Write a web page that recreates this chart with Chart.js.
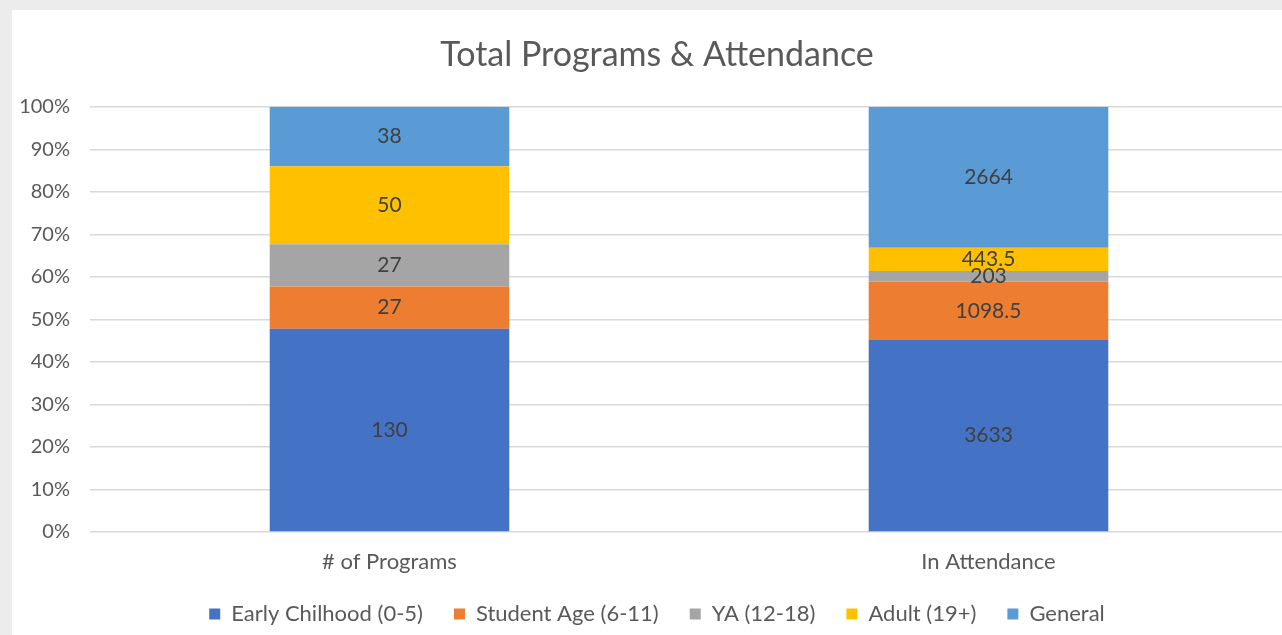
<!DOCTYPE html>
<html lang="en">
<head>
  <meta charset="UTF-8">
  <title>Total Programs & Attendance</title>
  <script src="https://cdn.jsdelivr.net/npm/chart.js"></script>
  <style>
    html, body { margin: 0; padding: 0; overflow: hidden; background: #ececec; }
    #panel { position: absolute; left: 12px; top: 10px; width: 1300px; height: 640px; background: #fff; }
    #wrap { position: absolute; left: 0; top: 0; width: 1300px; height: 635px; }
  </style>
</head>
<body>
  <div id="panel"></div>
  <div id="wrap"><canvas id="chart"></canvas></div>
  <script>
    const categories = ['# of Programs', 'In Attendance'];
    const seriesNames = ['Early Chilhood (0-5)', 'Student Age (6-11)', 'YA (12-18)', 'Adult (19+)', 'General'];
    const earlyChildhood = [130, 3633];
    const studentAge = [27, 1098.5];
    const youngAdult = [27, 203];
    const adult = [50, 443.5];
    const general = [38, 2664];
    const yTicks = [0, 10, 20, 30, 40, 50, 60, 70, 80, 90, 100];

    const colors = ['#4472C4', '#ED7D31', '#A5A5A5', '#FFC000', '#5B9BD5'];
    const raw = [earlyChildhood, studentAge, youngAdult, adult, general];
    const totals = categories.map((_, i) => raw.reduce((s, r) => s + r[i], 0));

    const fontFamily = 'Lato, "Open Sans", sans-serif';

    // draws the raw value in the middle of each segment
    const segmentLabels = {
      id: 'segmentLabels',
      afterDatasetsDraw(chart) {
        const ctx = chart.ctx;
        ctx.save();
        ctx.font = '21px ' + fontFamily;
        ctx.fillStyle = '#404040';
        ctx.textAlign = 'center';
        ctx.textBaseline = 'middle';
        chart.data.datasets.forEach((ds, di) => {
          chart.getDatasetMeta(di).data.forEach((bar, i) => {
            const mid = (bar.y + bar.base) / 2;
            ctx.fillText(String(ds.rawValues[i]), bar.x, mid);
          });
        });
        ctx.restore();
      }
    };

    // axis labels are clipped to their box; widen the boxes so nothing is cut
    const unclipLabels = {
      id: 'unclipLabels',
      afterLayout(chart) {
        chart.scales.y.left = 0;
        chart.scales.x.bottom = chart.height;
      }
    };

    new Chart(document.getElementById('chart'), {
      type: 'bar',
      data: {
        labels: categories,
        datasets: raw.map((r, k) => ({
          label: seriesNames[k],
          rawValues: r,
          data: r.map((v, i) => v / totals[i] * 100),
          backgroundColor: colors[k],
          barPercentage: 0.4,
          categoryPercentage: 1
        }))
      },
      options: {
        responsive: true,
        maintainAspectRatio: false,
        animation: false,
        layout: { padding: { left: 26, right: 12, top: 0, bottom: 0 } },
        scales: {
          x: {
            stacked: true,
            afterFit(scale) { scale.height = 40; },
            grid: { display: false },
            border: { display: false },
            ticks: { color: '#595959', padding: 9, font: { family: fontFamily, size: 22 } }
          },
          y: {
            stacked: true,
            min: 0,
            max: 100,
            afterBuildTicks(scale) { scale.ticks = yTicks.map(v => ({ value: v })); },
            afterFit(scale) { scale.width = 64; },
            grid: { color: '#d9d9d9', lineWidth: 1.5, drawTicks: false },
            border: { display: false },
            ticks: { color: '#595959', padding: 20, font: { family: fontFamily, size: 20 }, callback: v => v + '%' }
          }
        },
        plugins: {
          title: {
            display: true,
            text: 'Total Programs & Attendance',
            color: '#595959',
            font: { family: fontFamily, size: 34, weight: 'normal' },
            padding: { top: 35, bottom: 31 }
          },
          legend: {
            position: 'bottom',
            labels: {
              color: '#595959',
              boxWidth: 11,
              boxHeight: 11,
              padding: 31,
              font: { family: fontFamily, size: 22 }
            }
          },
          tooltip: { enabled: false }
        }
      },
      plugins: [segmentLabels, unclipLabels]
    });
  </script>
</body>
</html>
